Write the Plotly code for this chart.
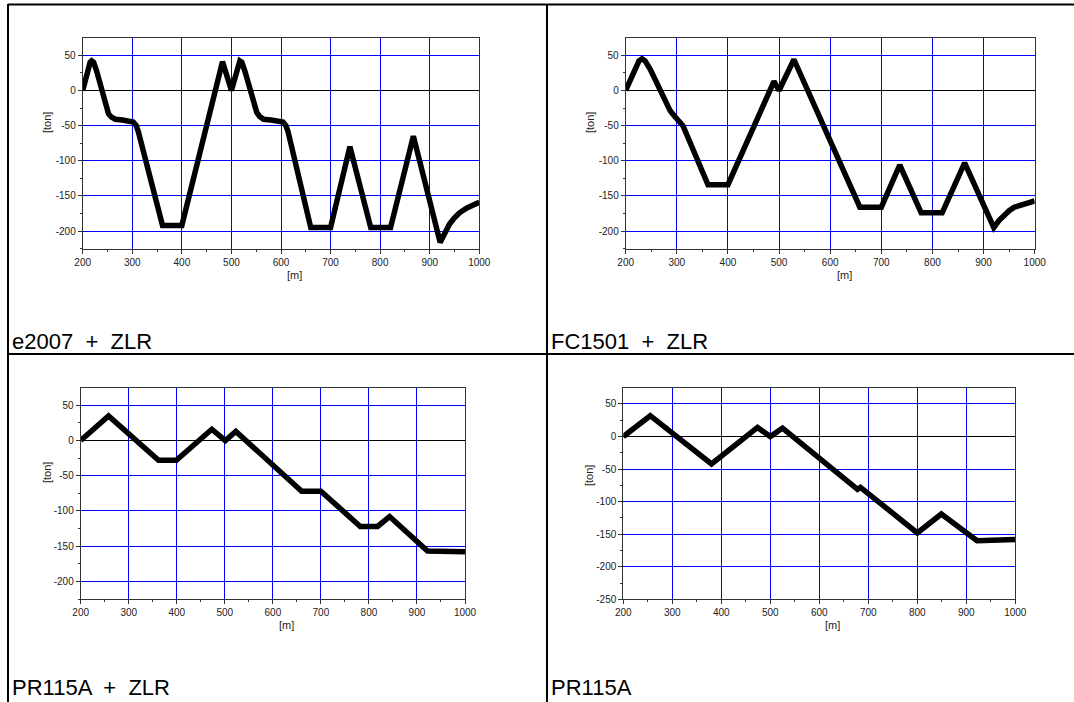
import plotly.graph_objects as go

W, H = 1074, 702

# ---------------- data ----------------
x_e2007 = [200, 210, 215, 218, 222, 228, 240, 247, 252, 258, 266, 280, 295, 302, 308, 312,
           361, 400, 482, 500, 517, 521, 527, 538, 546, 551, 557, 565, 580, 597, 604, 610, 614,
           660, 700, 739, 781, 821, 867, 921, 930, 940, 950, 960, 975, 990, 1000]
y_e2007 = [0, 30, 40, 42, 40, 28, -5, -25, -33, -38, -41, -42, -43, -45, -50, -58,
           -192, -192, 41, 0, 42, 40, 28, -2, -22, -31, -37, -41, -42, -43, -45, -50, -58,
           -195, -195, -80, -195, -195, -65, -216, -203, -190, -181, -174, -167, -161, -159]

x_fc1501 = [200, 215, 226, 232, 238, 248, 258, 268, 278, 287, 296, 305, 312,
            361, 400, 490, 500, 529, 658, 700, 736, 778, 819, 863, 920,
            930, 940, 950, 960, 975, 1000]
y_fc1501 = [0, 25, 42, 45, 42, 30, 14, -3, -18, -29, -37, -43, -50,
            -134, -134, 13, 0, 44, -166, -166, -106, -174, -174, -103, -195,
            -185, -177, -171, -166, -162, -157]

x_pr_zlr = [200, 258, 362, 399, 473, 501, 523, 660, 700, 782, 818, 843, 922, 1000]
y_pr_zlr = [0, 35, -28, -28, 16, 0, 13, -72, -72, -122, -122, -108, -157, -158]

x_pr = [200, 255, 380, 474, 500, 525, 678, 684, 800, 849, 922, 944, 1000]
y_pr = [0, 32, -42, 14, 0, 13, -81, -78, -148, -119, -160, -159, -158]

panel_labels = ["e2007  +  ZLR", "FC1501  +  ZLR", "PR115A  +  ZLR", "PR115A"]

x_ticks = [200, 300, 400, 500, 600, 700, 800, 900, 1000]
x_tick_text = ["200", "300", "400", "500", "600", "700", "800", "900", "1000"]
x_minor = [250, 350, 450, 550, 650, 750, 850, 950]
y_ticks_a = [50, 0, -50, -100, -150, -200]
y_ticks_b = [50, 0, -50, -100, -150, -200, -250]
y_tick_text_a = ["50", "0", "-50", "-100", "-150", "-200"]
y_tick_text_b = ["50", "0", "-50", "-100", "-150", "-200", "-250"]
y_minor_a = [25, -25, -75, -125, -175, -225]
y_minor_b = [25, -25, -75, -125, -175, -225]

# ---------------- layout geometry (pixels) ----------------
panels = [
    dict(x=x_e2007, y=y_e2007, box=(82.7, 479.3, 37.7, 248.7), yr=(-225, 75),
         yt=y_ticks_a, ytt=y_tick_text_a, ym=y_minor_a, ton=(47, 123), m=(294, 275), lab=(10, 341)),
    dict(x=x_fc1501, y=y_fc1501, box=(625.7, 1034.7, 37.7, 248.7), yr=(-225, 75),
         yt=y_ticks_a, ytt=y_tick_text_a, ym=y_minor_a, ton=(590, 123), m=(844, 275), lab=(549, 341)),
    dict(x=x_pr_zlr, y=y_pr_zlr, box=(80.7, 465.0, 387.7, 599.0), yr=(-225, 75),
         yt=y_ticks_a, ytt=y_tick_text_a, ym=y_minor_a, ton=(47, 473), m=(286, 625), lab=(10, 687)),
    dict(x=x_pr, y=y_pr, box=(623.3, 1015.3, 387.7, 599.3), yr=(-250, 75),
         yt=y_ticks_b, ytt=y_tick_text_b, ym=y_minor_b, ton=(589, 476), m=(832, 625), lab=(549, 687)),
]

fig = go.Figure()
layout = {}
annotations = []
tickfont = dict(family="Liberation Sans, Arial, sans-serif", size=10, color="#222222")

for i, p in enumerate(panels):
    n = "" if i == 0 else str(i + 1)
    xa, ya = "x" + n, "y" + n
    x0, x1, yt0, yb0 = p["box"]
    fig.add_trace(go.Scatter(x=p["x"], y=p["y"], mode="lines",
                             line=dict(color="black", width=5.5),
                             xaxis=xa, yaxis=ya, showlegend=False, hoverinfo="skip"))
    layout["xaxis" + n] = dict(
        domain=[x0 / W, x1 / W], range=[200, 1000], anchor=ya, automargin=False,
        tickvals=x_ticks, ticktext=x_tick_text,
        showgrid=True, gridcolor="#0000ff", gridwidth=1, zeroline=False,
        showline=True, linecolor="#333333", linewidth=1, mirror=True,
        ticks="outside", ticklen=4, tickcolor="#333333", tickfont=tickfont,
        minor=dict(ticks="outside", ticklen=2, tickvals=x_minor,
                   tickcolor="#333333", showgrid=False),
        fixedrange=True,
    )
    layout["yaxis" + n] = dict(
        domain=[1 - yb0 / H, 1 - yt0 / H], range=list(p["yr"]), anchor=xa, automargin=False,
        tickvals=p["yt"], ticktext=p["ytt"],
        showgrid=True, gridcolor="#0000ff", gridwidth=1,
        zeroline=True, zerolinecolor="black", zerolinewidth=1,
        showline=True, linecolor="#333333", linewidth=1, mirror=True,
        ticks="outside", ticklen=4, tickcolor="#333333", tickfont=tickfont,
        minor=dict(ticks="outside", ticklen=2, tickvals=p["ym"],
                   tickcolor="#333333", showgrid=False),
        fixedrange=True,
    )
    annotations.append(dict(text="[ton]", x=p["ton"][0] / W, y=1 - p["ton"][1] / H,
                            xref="paper", yref="paper", showarrow=False, textangle=-90,
                            font=dict(family="Liberation Sans, Arial", size=11, color="#222222"),
                            xanchor="center", yanchor="middle"))
    annotations.append(dict(text="[m]", x=p["m"][0] / W, y=1 - p["m"][1] / H,
                            xref="paper", yref="paper", showarrow=False,
                            font=dict(family="Liberation Sans, Arial", size=11, color="#222222"),
                            xanchor="center", yanchor="middle"))
    annotations.append(dict(text=panel_labels[i], x=p["lab"][0] / W, y=1 - p["lab"][1] / H,
                            xref="paper", yref="paper", showarrow=False,
                            font=dict(family="Liberation Sans, Arial", size=22, color="black"),
                            xanchor="left", yanchor="middle"))

# table frame lines
shapes = [
    dict(type="line", xref="paper", yref="paper", x0=8 / W, x1=1.0, y0=1 - 4.5 / H, y1=1 - 4.5 / H,
         line=dict(color="black", width=2)),
    dict(type="line", xref="paper", yref="paper", x0=8 / W, x1=8 / W, y0=1 - 4 / H, y1=0,
         line=dict(color="black", width=2)),
    dict(type="line", xref="paper", yref="paper", x0=547 / W, x1=547 / W, y0=1 - 4 / H, y1=0,
         line=dict(color="black", width=2)),
    dict(type="line", xref="paper", yref="paper", x0=8 / W, x1=1.0, y0=1 - 354 / H, y1=1 - 354 / H,
         line=dict(color="black", width=2)),
]

fig.update_layout(
    width=W, height=H, margin=dict(l=0, r=0, t=0, b=0, autoexpand=False),
    paper_bgcolor="white", plot_bgcolor="white",
    annotations=annotations, shapes=shapes, **layout,
)

fig.write_html(
    "out.html",
    config={"displayModeBar": False},
    post_script="document.body.style.margin='0';document.body.style.padding='0';"
                "document.body.style.overflow='hidden';"
                "document.documentElement.style.overflow='hidden';",
)
